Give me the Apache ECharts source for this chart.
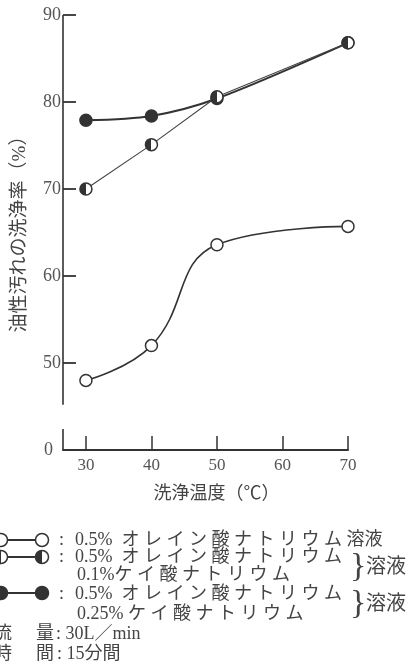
<!DOCTYPE html>
<html><head><meta charset="utf-8">
<script src="https://cdn.jsdelivr.net/npm/echarts@6/dist/echarts.min.js"></script>
<style>html,body{margin:0;padding:0;background:#fff}#c{width:411px;height:672px}</style>
</head><body><div id="c"></div>
<script>
// ---- data ----
const temps = [30, 40, 50, 70];
const oleate = [48.0, 52.0, 63.6, 65.7];          // 0.5% oleate
const oleateSil01 = [70.0, 75.1, 80.6, 86.8];     // + 0.1% silicate
const oleateSil025 = [77.9, 78.4, 80.4, 86.8];    // + 0.25% silicate
const xTicks = [30, 40, 50, 60, 70];
const yTickValues = [40, 50, 60, 70, 80, 90];
const yTickLabels = ['0', '50', '60', '70', '80', '90'];
const xRange = [26.5, 70];
const yRange = [40, 90];
const axisBreak = [42.4, 45.2];
const xName = '洗浄温度（℃）';
const yName = '油性汚れの洗浄率（%）';

const INK = '#333';
const serif = '"Liberation Serif","Noto Sans CJK JP"';
const halfFill = new echarts.graphic.LinearGradient(0, 0, 1, 0, [
  {offset: 0, color: INK}, {offset: 0.5, color: INK},
  {offset: 0.5, color: '#fff'}, {offset: 1, color: '#fff'}]);

const pairs = arr => temps.map((t, i) => [t, arr[i]]);

const chart = echarts.init(document.getElementById('c'), null, {renderer: 'canvas'});

const txt = (text, x, y, size, extra) => Object.assign({
  type: 'text', silent: true,
  style: Object.assign({text: text, x: x, y: y, font: size + 'px ' + serif, fill: '#444', verticalAlign: 'middle', align: 'left'}, extra || {})
});
const legendMarker = (y, fill) => [
  {type: 'line', silent: true, shape: {x1: 6, y1: y, x2: 36, y2: y}, style: {stroke: INK, lineWidth: 2}},
  {type: 'circle', silent: true, shape: {cx: 1, cy: y, r: 6.5}, style: {fill: fill, stroke: INK, lineWidth: 1.5}},
  {type: 'circle', silent: true, shape: {cx: 42, cy: y, r: 6.5}, style: {fill: fill, stroke: INK, lineWidth: 1.5}}
];

const graphics = [].concat(
  legendMarker(540, '#fff'),
  legendMarker(557, halfFill),
  legendMarker(593, INK),
  [
    txt(':', 59, 540, 18), txt('0.5%  オ レ イ ン 酸 ナ ト リ ウ ム 溶液', 75, 540, 18),
    txt(':', 59, 557, 18), txt('0.5%  オ レ イ ン 酸 ナ ト リ ウ ム', 75, 557.5, 18),
    txt('0.1%ケ イ 酸 ナ ト リ ウ ム', 77, 575, 18),
    txt(':', 59, 594, 18), txt('0.5%  オ レ イ ン 酸 ナ ト リ ウ ム', 75, 594, 18),
    txt('0.25% ケ イ 酸 ナ ト リ ウ ム', 77, 614, 18),
    txt('}', 350, 567, 34, {font: '34px "Liberation Serif"'}),
    txt('溶液', 366, 568, 20),
    txt('}', 350, 604, 34, {font: '34px "Liberation Serif"'}),
    txt('溶液', 366, 605, 20),
    txt('流', -6, 634, 18), txt('量', 36, 634, 18), txt(': 30L／min', 56, 634, 18),
    txt('時', -6, 654, 18), txt('間', 36, 654, 18), txt(': 15分間', 57, 654, 18)
  ]
);

chart.setOption({
  animation: false,
  backgroundColor: '#fff',
  grid: {left: 63, right: 63, top: 15, bottom: 222, containLabel: false},
  xAxis: {
    type: 'value', min: xRange[0], max: xRange[1],
    name: xName, nameLocation: 'middle', nameGap: 35,
    nameTextStyle: {fontFamily: serif, fontSize: 18, color: '#444', padding: [0, 0, 0, 22]},
    axisLine: {show: true, lineStyle: {color: INK, width: 2}},
    axisTick: {show: true, inside: true, length: 14, customValues: xTicks, lineStyle: {color: INK, width: 1.5}},
    axisLabel: {customValues: xTicks, margin: 7, fontFamily: serif, fontSize: 17, color: '#555'},
    splitLine: {show: false}
  },
  yAxis: {
    type: 'value', min: yRange[0], max: yRange[1], interval: 10,
    name: yName, nameLocation: 'middle', nameGap: 33, nameRotate: 90,
    nameTextStyle: {fontFamily: serif, fontSize: 19, color: '#444', padding: [0, 0, 0, 6]},
    axisLine: {show: false},
    axisTick: {show: true, inside: true, length: 13, lineStyle: {color: INK, width: 1.8}},
    axisLabel: {
      margin: 2, fontFamily: serif, fontSize: 18, color: '#555',
      formatter: v => { const i = yTickValues.indexOf(v); return i === 0 ? '{z|' + yTickLabels[0] + '}' : (i >= 0 ? yTickLabels[i] : ''); },
      rich: {z: {fontFamily: serif, fontSize: 18, color: '#555', padding: [0, 8, 0, 0]}}
    },
    splitLine: {show: false}
  },
  graphic: graphics,
  series: [
    {
      name: '0.5%オレイン酸ナトリウム溶液', type: 'line', data: pairs(oleate), smooth: 0.45,
      symbol: 'circle', symbolSize: 12,
      lineStyle: {color: INK, width: 1.6},
      itemStyle: {color: '#fff', borderColor: INK, borderWidth: 1.5},
      markLine: {
        silent: true, symbol: ['none', 'none'], label: {show: false},
        lineStyle: {color: INK, width: 1.6, type: 'solid'},
        emphasis: {disabled: true},
        data: [
          [{coord: [xRange[0], yRange[1]]}, {coord: [xRange[0], axisBreak[1]]}],
          [{coord: [xRange[0], axisBreak[0]]}, {coord: [xRange[0], yRange[0]]}]
        ]
      }
    },
    {
      name: '0.25%', type: 'line', data: pairs(oleateSil025), smooth: 0.3,
      symbol: 'circle', symbolSize: 12,
      lineStyle: {color: INK, width: 2},
      itemStyle: {color: INK, borderColor: INK, borderWidth: 1.5}
    },
    {
      name: '0.1%', type: 'line', data: pairs(oleateSil01), smooth: false,
      symbol: 'circle', symbolSize: 12,
      lineStyle: {color: '#444', width: 1.1},
      itemStyle: {color: halfFill, borderColor: INK, borderWidth: 1.5}
    }
  ]
});
</script></body></html>
